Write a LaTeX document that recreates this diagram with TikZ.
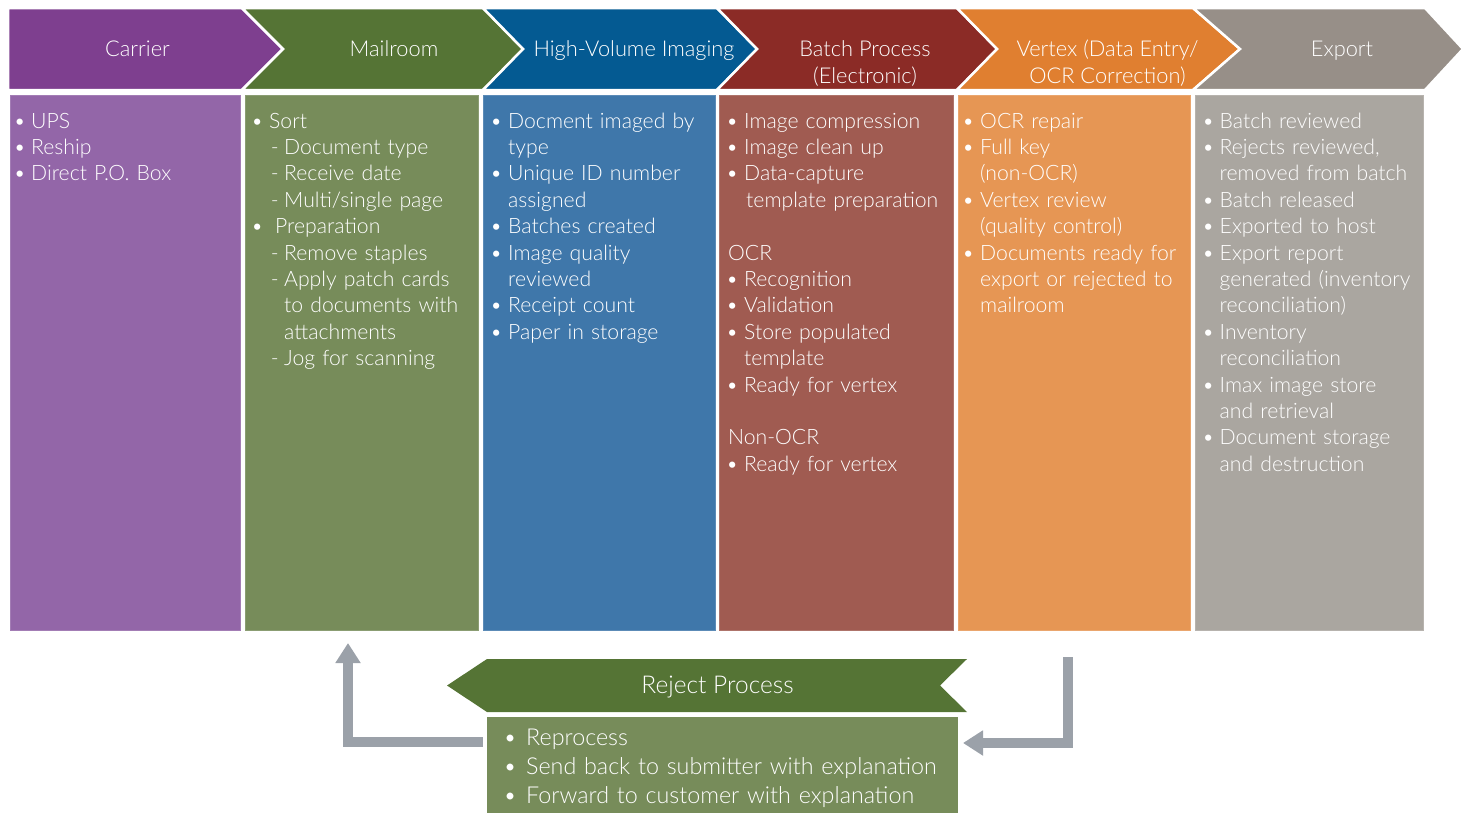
\documentclass[tikz,border=0pt]{standalone}
\usepackage{fontspec}
\setmainfont{Lato}[UprightFont=* Light]
\usetikzlibrary{arrows.meta}
\definecolor{purpleH}{HTML}{7E3F8F}\definecolor{purpleB}{HTML}{9366A8}
\definecolor{greenH}{HTML}{557435}\definecolor{greenB}{HTML}{778C5A}
\definecolor{blueH}{HTML}{045A92}\definecolor{blueB}{HTML}{3F77AA}
\definecolor{redH}{HTML}{8B2B26}\definecolor{redB}{HTML}{A05B51}
\definecolor{orangeH}{HTML}{E07F30}\definecolor{orangeB}{HTML}{E69654}
\definecolor{greyH}{HTML}{978F88}\definecolor{greyB}{HTML}{AAA6A0}
\definecolor{arrowgrey}{HTML}{9BA1A9}
\newlength\bw
\newcommand\bu{\makebox[\bw][l]{\makebox[0pt][c]{\textbullet}}}
\newcommand\cn{\hspace*{\bw}}
\newcommand\ds{\hspace*{17.5pt}\makebox[9.5pt][l]{\makebox[0pt][c]{-}}}
\newcommand\dc{\hspace*{27pt}}
\tikzset{
  hdr/.style={fill=#1, draw=white, line width=2.5pt, line join=miter},
  bodybox/.style={fill=#1, draw=#1!85!white, line width=0.8pt, inner sep=0pt, outer sep=0pt, anchor=north west, minimum height=535pt},
  coltext/.style={text=white, anchor=base west, inner sep=0pt, text width=#1, align=left, font=\fontsize{21.2}{26.4}\selectfont},
  hlabel/.style={text=white, anchor=base, inner sep=0pt, font=\fontsize{21.8}{27}\selectfont},
  garrow/.style={draw=arrowgrey, line width=10pt, line join=miter, -{Triangle[width=24pt,length=20pt]}}
}
\begin{document}
\begin{tikzpicture}[x=1pt,y=-1pt]
\useasboundingbox (0,0) rectangle (1470,814);
% header chevrons
\path[hdr=purpleH] (8,8) -- (242,8) -- (283,49) -- (242,90) -- (8,90) -- cycle;
\path[hdr=greenH] (242,8) -- (483,8) -- (523,49) -- (483,90) -- (242,90) -- (283,49) -- cycle;
\path[hdr=blueH] (483,8) -- (717,8) -- (757,49) -- (717,90) -- (483,90) -- (523,49) -- cycle;
\path[hdr=redH] (717,8) -- (957,8) -- (997,49) -- (957,90) -- (717,90) -- (757,49) -- cycle;
\path[hdr=orangeH] (957,8) -- (1193,8) -- (1240,49) -- (1193,90) -- (957,90) -- (997,49) -- cycle;
\path[hdr=greyH] (1193,8) -- (1425,8) -- (1463,49) -- (1425,90) -- (1193,90) -- (1240,49) -- cycle;
\node[hlabel] (h1) at (137.5,56) {Carrier};
\node[hlabel] (h2) at (394,56) {Mailroom};
\node[hlabel] (h3) at (634,56) {High-Volume Imaging};
\node[hlabel] (h4a) at (865,56) {Batch Process};
\node[hlabel] (h4b) at (865,83) {(Electronic)};
\node[hlabel] (h5a) at (1107.5,56) {Vertex (Data Entry/};
\node[hlabel] (h5b) at (1107.5,83) {OCR Correction)};
\node[hlabel] (h6) at (1342,56) {Export};
% body boxes
\node[bodybox=purpleB, minimum width=230pt] (b1) at (10,95) {};
\node[bodybox=greenB, minimum width=233pt] (b2) at (245,95) {};
\node[bodybox=blueB, minimum width=232pt] (b3) at (483,95) {};
\node[bodybox=redB, minimum width=234pt] (b4) at (719,95) {};
\node[bodybox=orangeB, minimum width=232pt] (b5) at (958,95) {};
\node[bodybox=greyB, minimum width=228pt] (b6) at (1195,95) {};
% column texts
\node[coltext=218pt] (t1) at (19.5,128) {\setlength\bw{11.5pt}%
\bu UPS\\ \bu Reship\\ \bu Direct P.O. Box};
\node[coltext=218pt] (t2) at (257,128) {\setlength\bw{12pt}%
\bu Sort\\
\ds Document type\\
\ds Receive date\\
\ds Multi/single page\\
\bu\hspace*{6pt}Preparation\\
\ds Remove staples\\
\ds Apply patch cards\\
\dc to documents with\\
\dc attachments\\
\ds Jog for scanning};
\node[coltext=218pt] (t3) at (496,128) {\setlength\bw{12pt}%
\bu Docment imaged by\\ \cn type\\ \bu Unique ID number\\ \cn assigned\\
\bu Batches created\\ \bu Image quality\\ \cn reviewed\\ \bu Receipt count\\
\bu Paper in storage};
\node[coltext=222pt] (t4) at (732,128) {\setlength\bw{12pt}%
\bu Image compression\\ \bu Image clean up\\ \bu Data-capture\\
\cn\hspace*{2pt}template preparation\\ \mbox{}\\ \hspace*{-4pt}OCR\\
\bu Recognition\\ \bu Validation\\ \bu Store populated\\ \cn template\\
\bu Ready for vertex\\ \mbox{}\\ \hspace*{-4pt}Non-OCR\\ \bu Ready for vertex};
\node[coltext=222pt] (t5) at (968,128) {\setlength\bw{12pt}%
\bu OCR repair\\ \bu Full key\\ \cn(non-OCR)\\ \bu Vertex review\\
\cn(quality control)\\ \bu Documents ready for\\ \cn export or rejected to\\
\cn mailroom};
\node[coltext=218pt] (t6) at (1208,128) {\setlength\bw{11.5pt}%
\bu Batch reviewed\\ \bu Rejects reviewed,\\ \cn removed from batch\\
\bu Batch released\\ \bu Exported to host\\ \bu Export report\\
\cn generated (inventory\\ \cn reconciliation)\\ \bu Inventory\\
\cn reconciliation\\ \bu Imax image store\\ \cn and retrieval\\
\bu Document storage\\ \cn and destruction};
% reject process
\path[fill=greenH] (487,659) -- (967,659) -- (940,685.5) -- (967,712) -- (487,712) -- (447,685.5) -- cycle;
\node[text=white, anchor=base, inner sep=0pt, font=\fontsize{24.5}{28}\selectfont] (rp) at (717.5,693) {Reject Process};
\node[fill=greenB, inner sep=0pt, outer sep=0pt, anchor=north west, minimum width=471pt, minimum height=96pt] (rb) at (487,717) {};
\node[text=white, anchor=base west, inner sep=0pt, text width=450pt, align=left, font=\fontsize{23.3}{29}\selectfont] (rt) at (510,745) {\setlength\bw{16pt}%
\bu Reprocess\\ \bu Send back to submitter with explanation\\ \bu Forward to customer with explanation};
% arrows
\coordinate (lstart) at (483,742);
\coordinate (lcorner) at (348,742);
\coordinate (ltip) at (348,643);
\draw[garrow] (lstart) -- (lcorner) -- (ltip);
\coordinate (rstart) at (1068,657);
\coordinate (rcorner) at (1068,743);
\coordinate (rtip) at (963,743);
\draw[garrow] (rstart) -- (rcorner) -- (rtip);
\end{tikzpicture}
\end{document}
